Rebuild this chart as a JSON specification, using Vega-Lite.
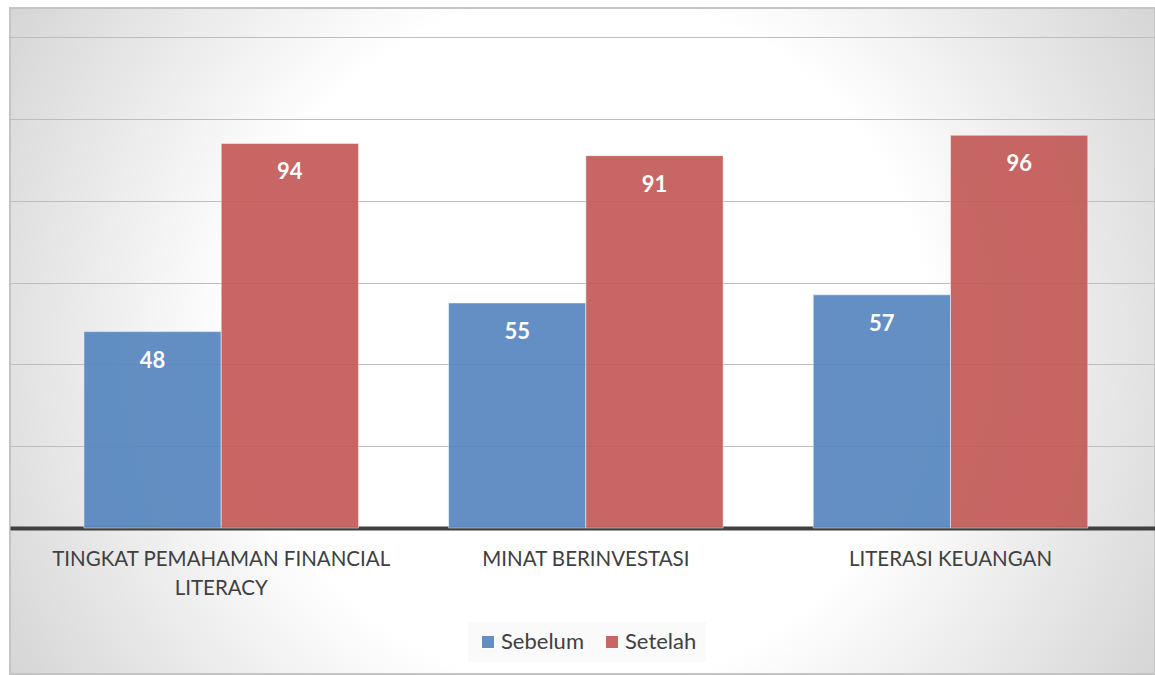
{
  "$schema": "https://vega.github.io/schema/vega-lite/v6.json",
  "width": 1145,
  "height": 666,
  "autosize": {"type": "none"},
  "padding": {"left": 10, "top": 8, "right": 0, "bottom": 1},
  "background": "white",
  "view": {
    "fill": {
      "gradient": "radial",
      "x1": 0.5, "y1": 0.5, "r1": 0,
      "x2": 0.5, "y2": 0.5, "r2": 0.72,
      "stops": [
        {"offset": 0, "color": "#ffffff"},
        {"offset": 0.42, "color": "#ffffff"},
        {"offset": 1, "color": "#c0c0c0"}
      ]
    },
    "stroke": "#c4c4c4",
    "strokeWidth": 2
  },
  "data": {
    "values": [
      {"kategori": "TINGKAT PEMAHAMAN FINANCIAL LITERACY", "waktu": "Sebelum", "nilai": 48},
      {"kategori": "TINGKAT PEMAHAMAN FINANCIAL LITERACY", "waktu": "Setelah", "nilai": 94},
      {"kategori": "MINAT BERINVESTASI", "waktu": "Sebelum", "nilai": 55},
      {"kategori": "MINAT BERINVESTASI", "waktu": "Setelah", "nilai": 91},
      {"kategori": "LITERASI KEUANGAN", "waktu": "Sebelum", "nilai": 57},
      {"kategori": "LITERASI KEUANGAN", "waktu": "Setelah", "nilai": 96}
    ]
  },
  "encoding": {
    "x": {
      "field": "kategori",
      "type": "nominal",
      "sort": ["TINGKAT PEMAHAMAN FINANCIAL LITERACY", "MINAT BERINVESTASI", "LITERASI KEUANGAN"],
      "scale": {"paddingInner": 0, "paddingOuter": 0.07, "align": 0.566},
      "axis": {
        "title": null,
        "labelAngle": 0,
        "labelFont": "Lato",
        "labelFontSize": 20.5,
        "labelColor": "#404040",
        "labelPadding": 21,
        "labelLineHeight": 29,
        "labelBaseline": "top",
        "labelLimit": 700,
        "labelOverlap": false,
        "labelExpr": "datum.value == 'TINGKAT PEMAHAMAN FINANCIAL LITERACY' ? ['TINGKAT PEMAHAMAN FINANCIAL', 'LITERACY'] : datum.value",
        "ticks": false,
        "grid": false,
        "domainColor": "#404040",
        "domainWidth": 4,
        "offset": -146
      }
    },
    "xOffset": {
      "field": "waktu",
      "type": "nominal",
      "sort": ["Sebelum", "Setelah"],
      "scale": {"paddingInner": 0, "paddingOuter": 0.328}
    },
    "y": {
      "field": "nilai",
      "type": "quantitative",
      "scale": {"domain": [-35.68, 127.09], "nice": false, "zero": false},
      "axis": {
        "title": null,
        "values": [20, 40, 60, 80, 100, 120],
        "labels": false,
        "ticks": false,
        "domain": false,
        "grid": true,
        "gridColor": "#bdbdbd",
        "gridWidth": 1
      }
    },
    "y2": {"datum": 0}
  },
  "layer": [
    {
      "mark": {"type": "bar", "opacity": 0.92, "stroke": "white", "strokeOpacity": 0.5, "strokeWidth": 1},
      "encoding": {
        "color": {
          "field": "waktu",
          "type": "nominal",
          "scale": {"domain": ["Sebelum", "Setelah"], "range": ["#5686bf", "#c35a57"]},
          "legend": {
            "title": null,
            "orient": "none",
            "legendX": 458,
            "legendY": 614,
            "direction": "horizontal",
            "symbolType": "square",
            "symbolSize": 169,
            "symbolStrokeColor": "#ffffff",
            "symbolStrokeWidth": 1,
            "labelFont": "Lato",
            "labelFontSize": 22,
            "labelColor": "#404040",
            "labelOffset": 2,
            "columnPadding": 17,
            "padding": 9,
            "fillColor": "rgba(0,0,0,0.02)"
          }
        }
      }
    },
    {
      "mark": {"type": "text", "dy": 29, "baseline": "middle", "align": "center", "color": "white", "font": "Lato", "fontWeight": "bold", "fontSize": 22},
      "encoding": {
        "text": {"field": "nilai", "type": "quantitative"}
      }
    }
  ]
}
